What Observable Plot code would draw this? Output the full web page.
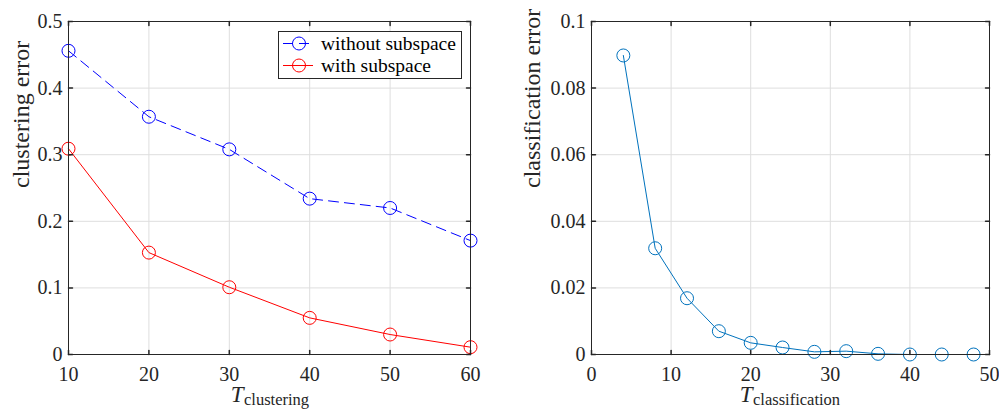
<!DOCTYPE html>
<html>
<head>
<meta charset="utf-8">
<script src="https://cdn.jsdelivr.net/npm/d3@7"></script>
<script src="https://cdn.jsdelivr.net/npm/@observablehq/plot@0.6"></script>
<style>
  html, body { margin: 0; padding: 0; background: white; }
  #wrap { position: relative; width: 999px; height: 409px; overflow: hidden; font-family: "Liberation Serif", serif; }
  #wrap svg, #wrap svg text { font-family: "Liberation Serif", serif !important; }
  #left, #right { position: absolute; top: 0; }
  #left { left: 0; }
  #right { left: 500px; }
  #legend { position: absolute; left: 0; top: 0; }
</style>
</head>
<body>
<div id="wrap">
  <div id="left"></div>
  <div id="right"></div>
</div>
<script>
// ---- data ----
const clusterT = [10, 20, 30, 40, 50, 60];
const withoutSubspace = [0.456, 0.357, 0.308, 0.234, 0.220, 0.171];
const withSubspace = [0.309, 0.153, 0.101, 0.055, 0.030, 0.011];
const clusterXTicks = [10, 20, 30, 40, 50, 60];
const clusterYTicks = [0, 0.1, 0.2, 0.3, 0.4, 0.5];

const classT = [4, 8, 12, 16, 20, 24, 28, 32, 36, 40, 44, 48];
const classError = [0.0898, 0.0319, 0.0169, 0.0070, 0.0035, 0.0021, 0.0008, 0.0010, 0.0002, 0.0000, 0.0000, 0.0000];
const classXTicks = [0, 10, 20, 30, 40, 50];
const classYTicks = [0, 0.02, 0.04, 0.06, 0.08, 0.1];

const seriesNames = ["without subspace", "with subspace"];
const seriesColors = ["#0000ff", "#ff0000"];

// ---- helpers ----
const FONT = "Liberation Serif";
const tickShape = { draw(ctx, l) { ctx.moveTo(0, 0); ctx.lineTo(0, -l); } };
const frameColor = "#262626";
const gridColor = "#dedede";
const TL = 4;
const TICKFS = 20, LABELFS = 24;

function inwardTicks(xt, yt, xd, yd) {
  return [
    Plot.vector(xt, {x: d => d, y: yd[0], length: TL, rotate: 0, anchor: "start", shape: tickShape, stroke: frameColor}),
    Plot.vector(xt, {x: d => d, y: yd[1], length: TL, rotate: 180, anchor: "start", shape: tickShape, stroke: frameColor}),
    Plot.vector(yt, {y: d => d, x: xd[0], length: TL, rotate: 90, anchor: "start", shape: tickShape, stroke: frameColor}),
    Plot.vector(yt, {y: d => d, x: xd[1], length: TL, rotate: 270, anchor: "start", shape: tickShape, stroke: frameColor})
  ];
}

function xLabel(main, sub, dx) {
  return [
    Plot.text([main], {text: d => d, frameAnchor: "bottom", lineAnchor: "top", dy: 31, dx: dx, textAnchor: "end", fontStyle: "italic", fontSize: 23, fontFamily: FONT, fill: "#262626"}),
    Plot.text([sub], {text: d => d, frameAnchor: "bottom", lineAnchor: "top", dy: 39, dx: dx + 0.5, textAnchor: "start", fontSize: 16.5, fontFamily: FONT, fill: "#262626"})
  ];
}

const commonStyle = {fontFamily: FONT, fontSize: "20px", background: "white", color: "#262626", overflow: "visible"};

// ---- left chart ----
const withoutData = clusterT.map((t, i) => ({t, v: withoutSubspace[i], s: seriesNames[0]}));
const withData = clusterT.map((t, i) => ({t, v: withSubspace[i], s: seriesNames[1]}));

const xdL = [10, 60], ydL = [0, 0.5];
const left = Plot.plot({
  width: 500, height: 409,
  marginLeft: 68, marginRight: 30, marginTop: 21, marginBottom: 55,
  style: commonStyle,
  x: {domain: xdL},
  y: {domain: ydL},
  marks: [
    Plot.gridX(clusterXTicks, {stroke: gridColor, strokeOpacity: 1}),
    Plot.gridY(clusterYTicks, {stroke: gridColor, strokeOpacity: 1}),
    Plot.axisX(clusterXTicks, {tickSize: 0, tickPadding: 12, label: null, tickFormat: d => String(d), fontSize: TICKFS, fontFamily: FONT, fill: "#262626"}),
    Plot.axisY(clusterYTicks, {tickSize: 0, tickPadding: 6, label: null, tickFormat: d => String(d), fontSize: TICKFS, fontFamily: FONT, fill: "#262626"}),
    Plot.line(withoutData, {x: "t", y: "v", stroke: seriesColors[0], strokeWidth: 1, strokeDasharray: "10,6"}),
    Plot.dot(withoutData, {x: "t", y: "v", r: 6.5, stroke: seriesColors[0], strokeWidth: 1, fill: "none"}),
    Plot.line(withData, {x: "t", y: "v", stroke: seriesColors[1], strokeWidth: 1}),
    Plot.dot(withData, {x: "t", y: "v", r: 6.5, stroke: seriesColors[1], strokeWidth: 1, fill: "none"}),
    Plot.frame({stroke: frameColor, strokeWidth: 1}),
    ...inwardTicks(clusterXTicks, clusterYTicks, xdL, ydL),
    Plot.text(["clustering error"], {text: d => d, frameAnchor: "left", rotate: -90, dx: -47, fontSize: LABELFS, fontFamily: FONT, fill: "#262626"}),
    ...xLabel("T", "clustering", -26)
  ]
});
document.getElementById("left").appendChild(left);

// ---- right chart ----
const rightData = classT.map((t, i) => ({t, v: classError[i]}));
const xdR = [0, 50], ydR = [0, 0.1];
const right = Plot.plot({
  width: 499, height: 409,
  marginLeft: 91, marginRight: 10, marginTop: 21, marginBottom: 55,
  style: commonStyle,
  x: {domain: xdR},
  y: {domain: ydR},
  marks: [
    Plot.gridX(classXTicks, {stroke: gridColor, strokeOpacity: 1}),
    Plot.gridY(classYTicks, {stroke: gridColor, strokeOpacity: 1}),
    Plot.axisX(classXTicks, {tickSize: 0, tickPadding: 12, label: null, tickFormat: d => String(d), fontSize: TICKFS, fontFamily: FONT, fill: "#262626"}),
    Plot.axisY(classYTicks, {tickSize: 0, tickPadding: 6, label: null, tickFormat: d => String(d), fontSize: TICKFS, fontFamily: FONT, fill: "#262626"}),
    Plot.line(rightData, {x: "t", y: "v", stroke: "#0072bd", strokeWidth: 1}),
    Plot.dot(rightData, {x: "t", y: "v", r: 6.5, stroke: "#0072bd", strokeWidth: 1, fill: "none"}),
    Plot.frame({stroke: frameColor, strokeWidth: 1}),
    ...inwardTicks(classXTicks, classYTicks, xdR, ydR),
    Plot.text(["classification error"], {text: d => d, frameAnchor: "left", rotate: -90, dx: -59, fontSize: LABELFS, fontFamily: FONT, fill: "#262626"}),
    ...xLabel("T", "classification", -38)
  ]
});
document.getElementById("right").appendChild(right);

// ---- legend (overlay on left chart) ----
const lg = d3.select("#wrap").append("svg").attr("id", "legend")
  .attr("width", 999).attr("height", 409).style("pointer-events", "none");
const bx = 278.5, by = 31.5, bw = 183, bh = 47;
lg.append("rect").attr("x", bx).attr("y", by).attr("width", bw).attr("height", bh)
  .attr("fill", "white").attr("stroke", frameColor).attr("stroke-width", 1);
seriesNames.forEach((name, i) => {
  const cy = 43.5 + i * 22;
  lg.append("line").attr("x1", 283).attr("x2", 313).attr("y1", cy).attr("y2", cy)
    .attr("stroke", seriesColors[i]).attr("stroke-width", 1)
    .attr("stroke-dasharray", i === 0 ? "10,6" : null);
  lg.append("circle").attr("cx", 299).attr("cy", cy).attr("r", 6.5)
    .attr("fill", "none").attr("stroke", seriesColors[i]).attr("stroke-width", 1);
  lg.append("text").attr("x", 321).attr("y", cy).attr("dy", "0.32em")
    .attr("font-family", FONT).attr("font-size", 19.5).attr("fill", "#000")
    .text(name);
});
</script>
</body>
</html>
